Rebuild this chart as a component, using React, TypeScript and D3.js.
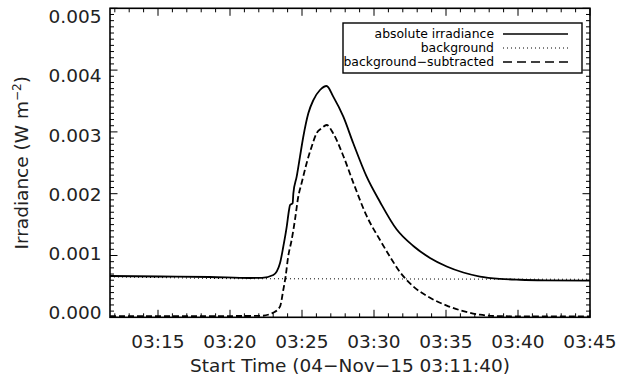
import React from "react";
import * as d3 from "d3";

// time in minutes after 03:00 UT, irradiance in W m^-2
const absTime = [11.667, 15.14, 18.61, 21.39, 22.22, 23.01, 23.47, 23.70, 23.94, 24.10, 24.17, 24.35, 24.40, 24.63, 24.86, 25.09, 25.44, 25.79, 26.25, 26.71, 27.17, 27.87, 28.56, 29.49, 30.42, 31.58, 32.73, 33.89, 35.05, 36.20, 37.36, 38.75, 40.14, 41.88, 45.0];
const absValue = [0.000668, 0.00066, 0.000652, 0.000636, 0.000639, 0.000684, 0.000874, 0.001142, 0.001466, 0.001736, 0.001817, 0.001845, 0.002006, 0.002275, 0.002599, 0.002922, 0.003301, 0.003516, 0.003678, 0.003743, 0.00357, 0.003246, 0.002816, 0.002275, 0.001866, 0.00142, 0.001154, 0.00096, 0.000822, 0.000725, 0.00066, 0.000623, 0.000608, 0.000599, 0.000594];

const bgTime = [11.667, 20.0, 45.0];
const bgValue = [0.000655, 0.000625, 0.000615];

const subTime = [11.667, 17.92, 22.08, 23.01, 23.47, 23.70, 23.86, 24.04, 24.28, 24.51, 24.74, 24.97, 25.32, 25.67, 26.01, 26.36, 26.71, 27.17, 27.87, 28.56, 29.49, 30.42, 31.11, 31.81, 32.73, 33.89, 35.05, 36.20, 37.36, 38.75, 40.14, 45.0];
const subValue = [0.00002, 0.00002, 0.000022, 0.000075, 0.000172, 0.000442, 0.000657, 0.000981, 0.001251, 0.001574, 0.001951, 0.002168, 0.002492, 0.002761, 0.002977, 0.003058, 0.003112, 0.002975, 0.00261, 0.00218, 0.00164, 0.00125, 0.00098, 0.00073, 0.0005, 0.000315, 0.00019, 0.0001, 0.000042, 0.000018, 0.000016, 0.000016];

const xTickMinutes = [15, 20, 25, 30, 35, 40, 45];
const xTickLabels = ["03:15", "03:20", "03:25", "03:30", "03:35", "03:40", "03:45"];
const yTicks = [0, 0.001, 0.002, 0.003, 0.004, 0.005];
const yTickLabels = ["0.000", "0.001", "0.002", "0.003", "0.004", "0.005"];

const legendLabels = ["absolute irradiance", "background", "background\u2212subtracted"];
const xTitle = "Start Time (04\u2212Nov\u221215 03:11:40)";

const L = 110, R = 590, T = 8.3, B = 317.3;
const FONT = "DejaVu Sans, sans-serif";

export default function App() {
  const x = d3.scaleLinear().domain([11 + 40 / 60, 45]).range([L, R]);
  const y = d3.scaleLinear().domain([0, 0.005]).range([B, T]);
  const yLab = d3.scaleLinear().domain([0, 0.005]).range([312.5, 16.5]);

  const line = d3
    .line<[number, number]>()
    .x((d) => x(d[0]))
    .y((d) => y(d[1]))
    .curve(d3.curveMonotoneX);

  const absPath = line(absTime.map((t, i) => [t, absValue[i]]) as [number, number][]) || "";
  const bgPath = d3
    .line<[number, number]>()
    .x((d) => x(d[0]))
    .y((d) => y(d[1]))(bgTime.map((t, i) => [t, bgValue[i]]) as [number, number][]) || "";
  const subPath = line(subTime.map((t, i) => [t, subValue[i]]) as [number, number][]) || "";

  const xMinor = d3.range(12, 45.001, 1);
  const yMinor = d3.range(0, 0.00501, 0.0001);

  const majorLen = 7.5;
  const minorLen = 4;

  const legendStyles = [
    { dash: undefined, w: 1.6 },
    { dash: "1,3", w: 1 },
    { dash: "9,5", w: 1.6 },
  ];

  return (
    <svg width={619} height={379} style={{ position: "absolute", left: 0, top: 0, background: "#fff" }}>
      <rect x={0} y={0} width={619} height={379} fill="#fff" />
      <defs>
        <clipPath id="plot">
          <rect x={L} y={T} width={R - L} height={B - T} />
        </clipPath>
      </defs>

      {/* data */}
      <g clipPath="url(#plot)" fill="none" stroke="#000">
        <path d={bgPath} strokeWidth={1} strokeDasharray="1,3" />
        <path d={absPath} strokeWidth={1.8} />
        <path d={subPath} strokeWidth={1.8} strokeDasharray="6,3" />
      </g>

      {/* ticks */}
      <g stroke="#000" strokeWidth={1}>
        {xMinor.map((m, i) => {
          const isMajor = xTickMinutes.includes(Math.round(m));
          const len = isMajor ? majorLen : minorLen;
          const xx = x(m);
          return (
            <g key={"xm" + i}>
              <line x1={xx} x2={xx} y1={B} y2={B - len} />
              <line x1={xx} x2={xx} y1={T} y2={T + len} />
            </g>
          );
        })}
        {yMinor.map((v, i) => {
          const isMajor = i % 10 === 0;
          const len = isMajor ? majorLen : minorLen;
          const yy = y(v);
          return (
            <g key={"ym" + i}>
              <line x1={L} x2={L + len} y1={yy} y2={yy} />
              <line x1={R} x2={R - len} y1={yy} y2={yy} />
            </g>
          );
        })}
      </g>

      {/* frame */}
      <rect x={L} y={T} width={R - L} height={B - T} fill="none" stroke="#000" strokeWidth={1.6} />

      {/* x tick labels */}
      <g fontFamily={FONT} fontSize={18.5} fill="#222" textAnchor="middle">
        {xTickMinutes.map((m, i) => (
          <text key={"xl" + i} x={x(m)} y={348}>
            {xTickLabels[i]}
          </text>
        ))}
      </g>

      {/* y tick labels */}
      <g fontFamily={FONT} fontSize={18.5} fill="#222" textAnchor="end">
        {yTicks.map((v, i) => (
          <text key={"yl" + i} x={101.5} y={yLab(v) + 6.6}>
            {yTickLabels[i]}
          </text>
        ))}
      </g>

      {/* axis titles */}
      <text x={(L + R) / 2} y={372} textAnchor="middle" fontFamily={FONT} fontSize={18.5} fill="#222">
        {xTitle}
      </text>
      <text
        transform={`translate(28,${(T + B) / 2}) rotate(-90)`}
        textAnchor="middle"
        fontFamily={FONT}
        fontSize={18.5}
        fill="#222"
      >
        Irradiance (W m<tspan dy={-7} fontSize={12}>{"\u22122"}</tspan>
        <tspan dy={7}>)</tspan>
      </text>

      {/* legend */}
      <g>
        <rect x={343} y={23} width={239} height={50} fill="#fff" stroke="#000" strokeWidth={1.4} />
        {legendLabels.map((lab, i) => {
          const cy = 34 + i * 14;
          const st = legendStyles[i];
          return (
            <g key={"lg" + i}>
              <text x={494} y={cy + 4.3} textAnchor="end" fontFamily={FONT} fontSize={12.4} fill="#000">
                {lab}
              </text>
              <line x1={503} x2={568} y1={cy} y2={cy} stroke="#000" strokeWidth={st.w} strokeDasharray={st.dash} />
            </g>
          );
        })}
      </g>
    </svg>
  );
}
